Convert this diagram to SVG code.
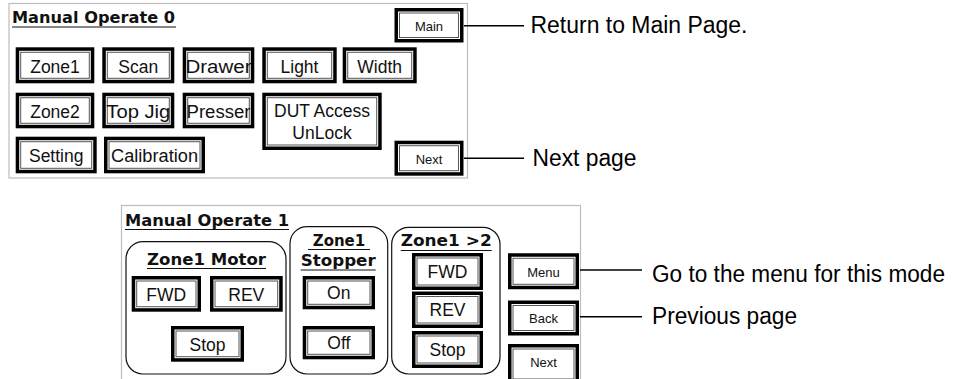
<svg xmlns="http://www.w3.org/2000/svg" width="958" height="379" viewBox="0 0 958 379">
<style>
.panel{fill:#fff;stroke:#bdbdbd;stroke-width:1.2}
.bo{fill:#fff;stroke:#000;stroke-width:3.5}
.bi{fill:none;stroke:#555;stroke-width:1}
.bt{font-family:"Liberation Sans",Arial,sans-serif;font-size:17.5px;fill:#111;text-anchor:middle}
.st{font-family:"Liberation Sans",Arial,sans-serif;font-size:13px;fill:#111;text-anchor:middle}
.ttl{font-family:"DejaVu Sans",Verdana,sans-serif;font-weight:bold;font-size:15px;fill:#111}
.ul{stroke:#111;stroke-width:1.2}
.grp{fill:none;stroke:#111;stroke-width:1.2}
.ann{font-family:"Liberation Sans",Arial,sans-serif;font-size:23px;fill:#000}
.con{stroke:#000;stroke-width:1.6}
</style>

<g id="panel0">
<rect class="panel" x="9" y="3.5" width="458.5" height="174.5"/>
<text class="ttl" x="12" y="22.5" textLength="163" lengthAdjust="spacingAndGlyphs">Manual Operate 0</text>
<line class="ul" x1="12" y1="27" x2="176" y2="27"/>
</g>

<g id="btn-main"><rect class="bo" x="396.25" y="9.75" width="65.5" height="31"/><rect class="bi" x="399.5" y="13" width="59" height="24.5"/><text class="st" x="429" y="30.5">Main</text></g>
<g id="btn-zone1"><rect class="bo" x="17.45" y="49.05" width="75.1" height="32.5"/><rect class="bi" x="20.7" y="52.3" width="68.6" height="26"/><text class="bt" x="55" y="72.5">Zone1</text></g>
<g id="btn-scan"><rect class="bo" x="104.05" y="49.05" width="68.5" height="32.5"/><rect class="bi" x="107.3" y="52.3" width="62" height="26"/><text class="bt" x="138.3" y="72.5">Scan</text></g>
<g id="btn-drawer"><rect class="bo" x="184.45" y="49.05" width="68.1" height="32.5"/><rect class="bi" x="187.7" y="52.3" width="61.6" height="26"/><text class="bt" x="218.5" y="72.5" textLength="66" lengthAdjust="spacingAndGlyphs">Drawer</text></g>
<g id="btn-light"><rect class="bo" x="264.05" y="49.05" width="70.9" height="32.5"/><rect class="bi" x="267.3" y="52.3" width="64.4" height="26"/><text class="bt" x="299.5" y="72.5">Light</text></g>
<g id="btn-width"><rect class="bo" x="344.45" y="49.05" width="70.5" height="32.5"/><rect class="bi" x="347.7" y="52.3" width="64" height="26"/><text class="bt" x="379.7" y="72.5">Width</text></g>

<g id="btn-zone2"><rect class="bo" x="17.45" y="94.45" width="75.1" height="32.1"/><rect class="bi" x="20.7" y="97.7" width="68.6" height="25.6"/><text class="bt" x="55" y="117.5">Zone2</text></g>
<g id="btn-topjig"><rect class="bo" x="104.05" y="94.45" width="68.5" height="32.1"/><rect class="bi" x="107.3" y="97.7" width="62" height="25.6"/><text class="bt" x="138.3" y="117.5" textLength="64" lengthAdjust="spacingAndGlyphs">Top Jig</text></g>
<g id="btn-presser"><rect class="bo" x="184.45" y="94.45" width="68.1" height="32.1"/><rect class="bi" x="187.7" y="97.7" width="61.6" height="25.6"/><text class="bt" x="218.5" y="117.5" textLength="64" lengthAdjust="spacingAndGlyphs">Presser</text></g>
<g id="btn-dut"><rect class="bo" x="264.05" y="94.45" width="115.9" height="53.8"/><rect class="bi" x="267.3" y="97.7" width="109.4" height="47.3"/><text class="bt" x="322" y="116.5">DUT Access</text><text class="bt" x="322" y="139">UnLock</text></g>

<g id="btn-setting"><rect class="bo" x="17.45" y="138.45" width="77.5" height="33.1"/><rect class="bi" x="20.7" y="141.7" width="71" height="26.6"/><text class="bt" x="56.2" y="162">Setting</text></g>
<g id="btn-calibration"><rect class="bo" x="105.75" y="138.45" width="97.5" height="33.1"/><rect class="bi" x="109" y="141.7" width="91" height="26.6"/><text class="bt" x="154.5" y="162" textLength="87" lengthAdjust="spacingAndGlyphs">Calibration</text></g>
<g id="btn-next0"><rect class="bo" x="396.25" y="142.45" width="65.5" height="31.5"/><rect class="bi" x="399.5" y="145.7" width="59" height="25"/><text class="st" x="429" y="164">Next</text></g>

<g id="panel1">
<rect class="panel" x="121.5" y="205.5" width="459" height="190"/>
<text class="ttl" x="125" y="225.5" textLength="164" lengthAdjust="spacingAndGlyphs">Manual Operate 1</text>
<line class="ul" x1="125" y1="229.5" x2="289" y2="229.5"/>
</g>

<g id="grp-motor">
<rect class="grp" x="126" y="241.7" width="160" height="132.3" rx="17"/>
<text class="ttl" x="206.5" y="264.5" text-anchor="middle" textLength="119" lengthAdjust="spacingAndGlyphs">Zone1 Motor</text>
<line class="ul" x1="147" y1="268.5" x2="266" y2="268.5"/>
</g>
<g id="btn-m-fwd"><rect class="bo" x="133.45" y="277.75" width="65.8" height="32.2"/><rect class="bi" x="136.7" y="281" width="59.3" height="25.7"/><text class="bt" x="166.3" y="300.5">FWD</text></g>
<g id="btn-m-rev"><rect class="bo" x="211.75" y="277.75" width="69.2" height="32.2"/><rect class="bi" x="215" y="281" width="62.7" height="25.7"/><text class="bt" x="246.3" y="300.5">REV</text></g>
<g id="btn-m-stop"><rect class="bo" x="172.75" y="327.75" width="69.5" height="32.2"/><rect class="bi" x="176" y="331" width="63" height="25.7"/><text class="bt" x="207.5" y="350.5">Stop</text></g>

<g id="grp-stopper">
<rect class="grp" x="290" y="226.7" width="97.7" height="147.3" rx="17"/>
<text class="ttl" x="339" y="246" text-anchor="middle">Zone1</text>
<line class="ul" x1="308" y1="249.5" x2="370" y2="249.5"/>
<text class="ttl" x="338.2" y="266" text-anchor="middle" textLength="75" lengthAdjust="spacingAndGlyphs">Stopper</text>
<line class="ul" x1="300.7" y1="270" x2="375.7" y2="270"/>
</g>
<g id="btn-s-on"><rect class="bo" x="304.45" y="277.75" width="68.8" height="29.8"/><rect class="bi" x="307.7" y="281" width="62.3" height="23.3"/><text class="bt" x="338.8" y="299">On</text></g>
<g id="btn-s-off"><rect class="bo" x="304.45" y="327.75" width="68.8" height="29.8"/><rect class="bi" x="307.7" y="331" width="62.3" height="23.3"/><text class="bt" x="338.8" y="349">Off</text></g>

<g id="grp-zone12">
<rect class="grp" x="391.7" y="227.3" width="108.3" height="146.7" rx="17"/>
<text class="ttl" x="446.2" y="246" text-anchor="middle" textLength="91" lengthAdjust="spacingAndGlyphs">Zone1 &gt;2</text>
<line class="ul" x1="400.7" y1="250.5" x2="491.7" y2="250.5"/>
</g>
<g id="btn-z-fwd"><rect class="bo" x="413.75" y="254.75" width="67.5" height="33.5"/><rect class="bi" x="417" y="258" width="61" height="27"/><text class="bt" x="447.5" y="278">FWD</text></g>
<g id="btn-z-rev"><rect class="bo" x="413.75" y="293.25" width="67.5" height="33"/><rect class="bi" x="417" y="296.5" width="61" height="26.5"/><text class="bt" x="447.5" y="316.3">REV</text></g>
<g id="btn-z-stop"><rect class="bo" x="413.75" y="332.75" width="67.5" height="33.5"/><rect class="bi" x="417" y="336" width="61" height="27"/><text class="bt" x="447.5" y="356">Stop</text></g>

<g id="btn-menu"><rect class="bo" x="509.75" y="255" width="67.5" height="32.5"/><rect class="bi" x="513" y="258.3" width="61" height="26"/><text class="st" x="543.5" y="276.5">Menu</text></g>
<g id="btn-back"><rect class="bo" x="509.75" y="302.25" width="67.5" height="31.5"/><rect class="bi" x="513" y="305.5" width="61" height="25"/><text class="st" x="543.5" y="323">Back</text></g>
<g id="btn-next1"><rect class="bo" x="509.75" y="345.75" width="67.5" height="36"/><rect class="bi" x="513" y="349" width="61" height="30"/><text class="st" x="543.5" y="366.5">Next</text></g>

<g id="connectors">
<line class="con" x1="464" y1="25.7" x2="524" y2="25.7"/>
<line class="con" x1="464" y1="158.3" x2="524" y2="158.3"/>
<line class="con" x1="580" y1="270" x2="642" y2="270"/>
<line class="con" x1="580" y1="316.7" x2="642" y2="316.7"/>
</g>

<g id="annotations">
<text class="ann" x="530.5" y="32.5" textLength="217" lengthAdjust="spacingAndGlyphs">Return to Main Page.</text>
<text class="ann" x="532.5" y="166" textLength="104" lengthAdjust="spacingAndGlyphs">Next page</text>
<text class="ann" x="652" y="281.5" textLength="293" lengthAdjust="spacingAndGlyphs">Go to the menu for this mode</text>
<text class="ann" x="652" y="323.5" textLength="145" lengthAdjust="spacingAndGlyphs">Previous page</text>
</g>
</svg>
